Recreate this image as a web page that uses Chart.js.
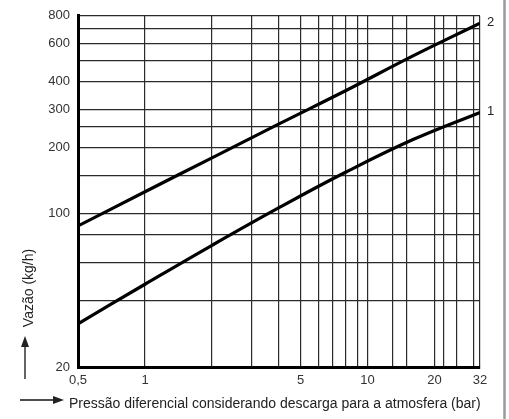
<!DOCTYPE html>
<html>
<head>
<meta charset="utf-8">
<script src="https://cdn.jsdelivr.net/npm/chart.js@4.4.1/dist/chart.umd.min.js"></script>
<style>
  html, body { margin: 0; padding: 0; background: #fff; }
  #wrap { width: 509px; height: 419px; position: relative; }
</style>
</head>
<body>
<div id="wrap"><canvas id="flowChart" width="509" height="419"></canvas></div>
<script>
const pressure = [0.5, 1, 2, 4, 8, 16, 32];
const flow1 = [31.5, 47.7, 71.8, 106.6, 155, 218, 290];
const flow2 = [88, 126, 180, 257, 365, 525, 740];
const curveNames = ['1', '2'];

// grid lines and the labels printed on them
const xGrid = [0.5, 1, 2, 3, 4, 5, 6, 7, 8, 9, 10, 13, 15, 20, 22, 25, 30, 32];
const xLabels = { 0.5: '0,5', 1: '1', 5: '5', 10: '10', 20: '20', 32: '32' };
const yGrid = [20, 40, 60, 80, 100, 150, 200, 250, 300, 400, 500, 600, 700, 800];
const yLabels = [20, 100, 200, 300, 400, 600, 800];

const xTitle = 'Pressão diferencial considerando descarga para a atmosfera (bar)';
const yTitle = 'Vazão (kg/h)';

const narrow = '"Liberation Sans Narrow", "Arial Narrow", "Liberation Sans", sans-serif';

// titles, arrows, curve numbers and the page edge
const decorations = {
    id: 'decorations',
    afterDraw(chart) {
        const ctx = chart.ctx;
        ctx.save();
        ctx.fillStyle = '#222';
        ctx.strokeStyle = '#111';

        // curve numbers at the end of each line
        ctx.font = '13px ' + narrow;
        ctx.textAlign = 'left';
        ctx.textBaseline = 'middle';
        chart.data.datasets.forEach((ds, i) => {
            const pts = chart.getDatasetMeta(i).data;
            const last = pts[pts.length - 1];
            ctx.fillText(curveNames[i], last.x + 7, last.y - 1);
        });

        // x title with arrow
        ctx.font = '14px ' + narrow;
        ctx.textBaseline = 'middle';
        ctx.fillText(xTitle, 69, 404);
        ctx.lineWidth = 1.3;
        ctx.beginPath();
        ctx.moveTo(20, 400);
        ctx.lineTo(56, 400);
        ctx.stroke();
        ctx.beginPath();
        ctx.moveTo(64, 400);
        ctx.lineTo(53, 396);
        ctx.lineTo(53, 404);
        ctx.closePath();
        ctx.fill();

        // y title with arrow
        ctx.save();
        ctx.translate(29, 288);
        ctx.rotate(-Math.PI / 2);
        ctx.textAlign = 'center';
        ctx.fillText(yTitle, 0, 0);
        ctx.restore();
        ctx.beginPath();
        ctx.moveTo(25, 379);
        ctx.lineTo(25, 344);
        ctx.stroke();
        ctx.beginPath();
        ctx.moveTo(25, 336);
        ctx.lineTo(21, 347);
        ctx.lineTo(29, 347);
        ctx.closePath();
        ctx.fill();

        // scanned page edge on the right
        ctx.strokeStyle = '#9a9a9a';
        ctx.lineWidth = 2.5;
        ctx.beginPath();
        ctx.moveTo(504.5, 0);
        ctx.lineTo(504.5, 419);
        ctx.stroke();
        ctx.restore();
    }
};

new Chart(document.getElementById('flowChart'), {
    type: 'line',
    data: {
        datasets: [
            {
                data: pressure.map((p, i) => ({ x: p, y: flow1[i] })),
                borderColor: '#000',
                borderWidth: 3.2,
                pointRadius: 0,
                tension: 0.4,
                fill: false
            },
            {
                data: pressure.map((p, i) => ({ x: p, y: flow2[i] })),
                borderColor: '#000',
                borderWidth: 3.2,
                pointRadius: 0,
                tension: 0.4,
                fill: false
            }
        ]
    },
    options: {
        responsive: false,
        animation: false,
        layout: { padding: { top: 14, right: 29, left: 0, bottom: 0 } },
        plugins: { legend: { display: false }, tooltip: { enabled: false } },
        scales: {
            x: {
                type: 'logarithmic',
                min: 0.5,
                max: 32,
                afterBuildTicks: s => { s.ticks = xGrid.map(v => ({ value: v })); },
                afterFit: s => { s.height = 52; },
                grid: { color: '#2a2a2a', lineWidth: 1.2, drawTicks: false },
                border: { color: '#000', width: 3 },
                ticks: {
                    autoSkip: false,
                    maxRotation: 0,
                    padding: 6,
                    color: '#333',
                    font: { size: 13, family: 'Liberation Sans, Arial, sans-serif' },
                    callback: v => xLabels[v] || ''
                }
            },
            y: {
                type: 'logarithmic',
                min: 20,
                max: 800,
                afterBuildTicks: s => { s.ticks = yGrid.map(v => ({ value: v })); },
                afterFit: s => { s.width = 78; },
                grid: { color: '#2a2a2a', lineWidth: 1.2, drawTicks: false },
                border: { color: '#000', width: 3 },
                ticks: {
                    autoSkip: false,
                    padding: 8,
                    color: '#333',
                    font: { size: 13, family: 'Liberation Sans, Arial, sans-serif' },
                    callback: v => yLabels.includes(v) ? String(v) : ''
                }
            }
        }
    },
    plugins: [decorations]
});
</script>
</body>
</html>
